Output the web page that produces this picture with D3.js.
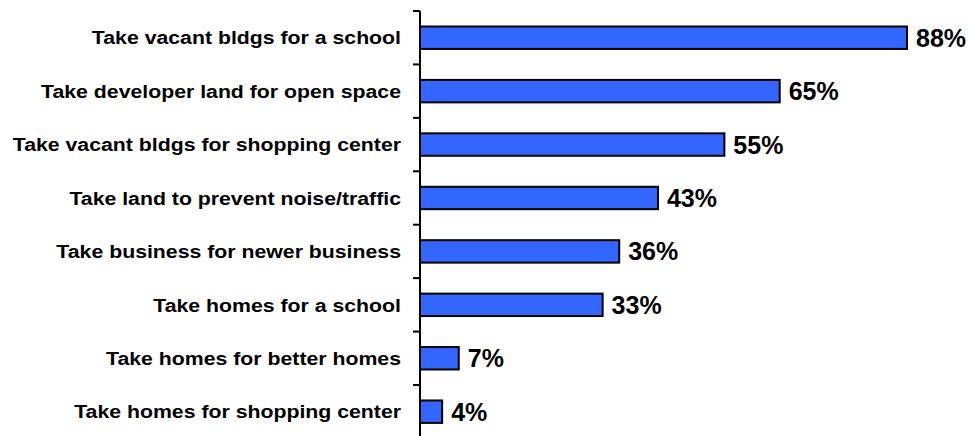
<!DOCTYPE html>
<html><head><meta charset="utf-8">
<script src="https://cdn.jsdelivr.net/npm/d3@7"></script>
<style>body{margin:0;background:#fff}svg{display:block}</style>
</head><body><svg id="c" width="971" height="436"></svg>
<script>
const categories = ["Take vacant bldgs for a school","Take developer land for open space","Take vacant bldgs for shopping center","Take land to prevent noise/traffic","Take business for newer business","Take homes for a school","Take homes for better homes","Take homes for shopping center"];
const values = [88,65,55,43,36,33,7,4];
const valueLabels = ["88%","65%","55%","43%","36%","33%","7%","4%"];

const svg = d3.select("#c");
const x = d3.scaleLinear().domain([0,100]).range([420,973.4]);
const y = d3.scaleBand().domain(categories).range([11,438.4]).paddingInner(0.58).paddingOuter(0.29);

const g = svg.append("g");
g.selectAll("rect").data(values).join("rect")
  .attr("x", x(0)).attr("y",(d,i)=>y(categories[i]))
  .attr("width", d=>x(d)-x(0)).attr("height", y.bandwidth())
  .attr("fill","#3366FF").attr("stroke","#000").attr("stroke-width",2);

g.selectAll("text.v").data(values).join("text").attr("class","v")
  .attr("x", d=>x(d)+9).attr("y",(d,i)=>y(categories[i])+y.bandwidth()/2)
  .attr("dy","0.36em")
  .style("font-family","Liberation Sans, Arial, sans-serif").style("font-weight","bold").style("font-size","25px")
  .text((d,i)=>valueLabels[i]);

// axis
const ticks = d3.range(categories.length+1).map(i=>11+i*(438.4-11)/categories.length);
svg.append("line").attr("x1",x(0)).attr("x2",x(0)).attr("y1",11).attr("y2",436)
  .attr("stroke","#000").attr("stroke-width",2);
svg.selectAll("line.t").data(ticks).join("line").attr("class","t")
  .attr("x1",413).attr("x2",x(0)).attr("y1",d=>d).attr("y2",d=>d)
  .attr("stroke","#000").attr("stroke-width",2);

svg.selectAll("g.c").data(categories).join("g").attr("class","c")
  .attr("transform",d=>`translate(401,${y(d)+y.bandwidth()/2}) scale(1.15,1)`)
  .append("text")
  .attr("x",0).attr("y",0).attr("dy","0.36em")
  .attr("text-anchor","end")
  .style("font-family","Liberation Sans, Arial, sans-serif").style("font-weight","bold").style("font-size","18.5px")
  .text(d=>d);
</script></body></html>
